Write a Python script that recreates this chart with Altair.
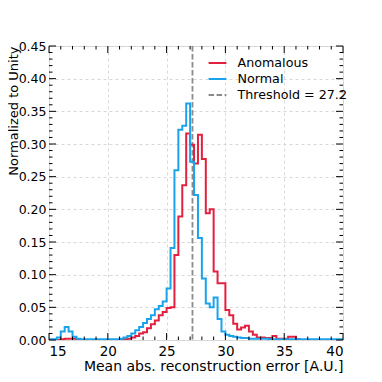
import altair as alt
import pandas as pd

# ---- data ----
bin_start = 15.0
bin_width = 1.0 / 3.0

anomalous = [
    0, 0, 0, 0.001, 0.002, 0.002, 0.002, 0.001, 0, 0,
    0, 0, 0, 0, 0, 0, 0, 0, 0, 0.001,
    0.002, 0.004, 0.006, 0.010, 0.012, 0.018, 0.024, 0.030, 0.038, 0.043,
    0.049, 0.050, 0.130, 0.189, 0.237, 0.316, 0.299, 0.270, 0.314, 0.277,
    0.194, 0.200, 0.105, 0.087, 0.087, 0.046, 0.038, 0.025, 0.016, 0.019,
    0.022, 0.013, 0.008, 0.004, 0.004, 0.003, 0.003, 0.006, 0.002, 0.002,
    0.002, 0.005, 0.005, 0.001, 0, 0, 0, 0, 0, 0,
    0, 0, 0, 0, 0,
]
normal = [
    0.001, 0.001, 0.004, 0.013, 0.020, 0.013, 0.005, 0.002, 0.001, 0.001,
    0.001, 0.001, 0.001, 0.001, 0.001, 0.001, 0.001, 0.001, 0.002, 0.004,
    0.006, 0.010, 0.015, 0.020, 0.026, 0.032, 0.038, 0.047, 0.052, 0.059,
    0.079, 0.141, 0.260, 0.322, 0.328, 0.362, 0.273, 0.222, 0.156, 0.094,
    0.056, 0.050, 0.065, 0.032, 0.013, 0.008, 0.006, 0.005, 0.004, 0.003,
    0.003, 0.002, 0.002, 0.002, 0.002, 0.002, 0.001, 0.001, 0.001, 0.001,
    0.001, 0.001, 0.001, 0.001, 0.001, 0.001, 0.001, 0.001, 0.001, 0.001,
    0.001, 0.001, 0.001, 0.001, 0.001,
]
threshold = 27.2
series_names = ["Anomalous", "Normal", f"Threshold = {threshold}"]
series_colors = ["#e2203f", "#1aa3ec", "#8a8a8a"]
series_dash = [[1, 0], [1, 0], [5.5, 2.5]]

x_major = [15, 20, 25, 30, 35, 40]
x_minor = [v for v in range(15, 41) if v not in x_major]
y_major = [round(0.05 * i, 2) for i in range(10)]
y_minor = [round(0.01 * i, 2) for i in range(46) if i % 5 != 0]

W, H = 294, 294
FONT = "DejaVu Sans"

# ---- build step outlines ----
rows = []
for name, vals in [(series_names[0], anomalous), (series_names[1], normal)]:
    n = len(vals)
    edges = [bin_start + i * bin_width for i in range(n + 1)]
    rows.append({"series": name, "x": edges[0], "y": 0.0, "order": 0})
    for i, v in enumerate(vals):
        rows.append({"series": name, "x": edges[i], "y": v, "order": i + 1})
    rows.append({"series": name, "x": edges[-1], "y": 0.0, "order": n + 1})
hist_df = pd.DataFrame(rows)
thr_df = pd.DataFrame({"x": [threshold], "series": [series_names[2]]})

xscale = alt.Scale(domain=[15, 40], nice=False, zero=False)
yscale = alt.Scale(domain=[0, 0.45], nice=False)

xenc = alt.X(
    "x:Q", scale=xscale,
    axis=alt.Axis(
        title="Mean abs. reconstruction error [A.U.]", values=x_major,
        format="d", ticks=False, domain=False, grid=True,
        gridDash=[3, 3], gridColor="#cfcfcf", gridWidth=0.8,
        labelFont=FONT, labelFontSize=13.5, labelColor="black", labelPadding=4,
        titleFont=FONT, titleFontSize=14, titleFontWeight="normal",
        titleColor="black", titleAnchor="end", titlePadding=2,
    ),
)
yenc = alt.Y(
    "y:Q", scale=yscale,
    axis=alt.Axis(
        title="Normalized to Unity", values=y_major, format=".2f",
        ticks=False, domain=False, grid=True,
        gridDash=[3, 3], gridColor="#cfcfcf", gridWidth=0.8,
        labelFont=FONT, labelFontSize=12.5, labelColor="black", labelPadding=3,
        titleFont=FONT, titleFontSize=13, titleFontWeight="normal",
        titleColor="black", titleAngle=270, titleAlign="right",
        titleBaseline="bottom", titleX=-28.5, titleY=0,
    ),
)

cscale = alt.Scale(domain=series_names, range=series_colors)
dscale = alt.Scale(domain=series_names, range=series_dash)
legend = alt.Legend(
    title=None, orient="none", legendX=159.5, legendY=8,
    symbolType="M-1.15,0H1.15", symbolSize=240, symbolStrokeWidth=2,
    labelFont=FONT, labelFontSize=12.7, labelColor="black",
    labelOffset=11, rowPadding=0, padding=0,
)
color = alt.Color("series:N", scale=cscale, legend=legend)
dash = alt.StrokeDash("series:N", scale=dscale, legend=legend)

hist = alt.Chart(hist_df).mark_line(
    interpolate="step-after", strokeWidth=2, clip=True
).encode(x=xenc, y=yenc, color=color, strokeDash=dash, order="order:Q")

thr = alt.Chart(thr_df).mark_rule(strokeWidth=1.8).encode(
    x=xenc, color=color, strokeDash=dash
)

def xticks(vals, length):
    d = pd.DataFrame({"x": vals})
    bottom = alt.Chart(d).mark_rule(color="black", strokeWidth=1).encode(
        x=xenc, y=alt.value(H), y2=alt.value(H - length))
    top = alt.Chart(d).mark_rule(color="black", strokeWidth=1).encode(
        x=xenc, y=alt.value(0), y2=alt.value(length))
    return [bottom, top]

def yticks(vals, length):
    d = pd.DataFrame({"y": vals})
    left = alt.Chart(d).mark_rule(color="black", strokeWidth=1).encode(
        y=yenc, x=alt.value(0), x2=alt.value(length))
    right = alt.Chart(d).mark_rule(color="black", strokeWidth=1).encode(
        y=yenc, x=alt.value(W), x2=alt.value(W - length))
    return [left, right]

layers = [thr, hist] + xticks(x_major, 7) + xticks(x_minor, 3.5) \
    + yticks(y_major, 7) + yticks(y_minor, 3.5)

chart = alt.layer(*layers).properties(
    width=W, height=H,
    autosize=alt.AutoSizeParams(type="none"),
    padding={"left": 41, "top": 38, "right": 31, "bottom": 34},
).configure_view(stroke="black", strokeWidth=1.3).configure(background="white")

chart.save("out.html", embed_options={"renderer": "svg", "actions": False})
